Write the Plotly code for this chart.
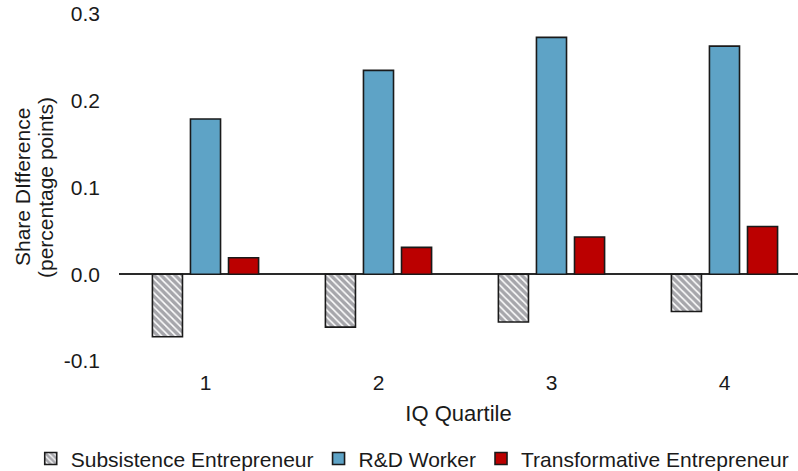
import plotly.graph_objects as go

quartiles = ["1", "2", "3", "4"]
subsistence = [-0.072, -0.061, -0.055, -0.043]
rd_worker = [0.179, 0.235, 0.273, 0.263]
transformative = [0.019, 0.031, 0.043, 0.055]

y_ticks = [-0.1, 0.0, 0.1, 0.2, 0.3]
y_labels = ["-0.1", "0.0", "0.1", "0.2", "0.3"]
y_title_lines = ["Share DIfference", "(percentage points)"]

font = "Liberation Sans, Arial, sans-serif"
outline = dict(color="#1a1a1a", width=1.6)

fig = go.Figure()
fig.add_trace(go.Bar(
    x=quartiles, y=subsistence, name="Subsistence Entrepreneur",
    marker=dict(color="white", line=outline,
                pattern=dict(shape="\\", fgcolor="#4e4e57", bgcolor="white",
                             size=5, solidity=0.7)),
))
fig.add_trace(go.Bar(
    x=quartiles, y=rd_worker, name="R&D Worker",
    marker=dict(color="#5ea3c6", line=outline),
))
fig.add_trace(go.Bar(
    x=quartiles, y=transformative, name="Transformative Entrepreneur",
    marker=dict(color="#bb0000", line=outline),
))

# y title drawn as two rotated lines, tighter line spacing than plotly's
for xpos, line in zip([-0.1421, -0.1082], y_title_lines):
    fig.add_annotation(text=line, xref="paper", yref="paper", x=xpos, y=0.5,
                       xanchor="center", yanchor="middle", textangle=-90,
                       showarrow=False,
                       font=dict(family=font, size=21, color="#1a1a1a"))

fig.update_layout(
    width=798, height=471,
    plot_bgcolor="white", paper_bgcolor="white",
    font=dict(family=font, size=21, color="#1a1a1a"),
    margin=dict(l=119, r=0, t=14, b=110, autoexpand=False),
    barmode="group", bargap=0.34, bargroupgap=0.21,
    showlegend=True,
    # x < 0 lets the horizontal legend use the full figure width (one row)
    legend=dict(orientation="h", x=-0.13, xanchor="left",
                y=-0.282, yanchor="middle",
                font=dict(size=21), itemwidth=30, tracegroupgap=0),
    xaxis=dict(range=[-0.5, 3.425], showline=False, ticks="",
               automargin=False, ticklabelstandoff=7,
               title=dict(text="IQ Quartile", standoff=12,
                          font=dict(size=22))),
    yaxis=dict(range=[-0.1, 0.3], tickvals=y_ticks, ticktext=y_labels,
               showgrid=False, showline=False, ticks="", automargin=False,
               ticklabelstandoff=18,
               zeroline=True, zerolinecolor="#2a2a2a", zerolinewidth=1.6),
)

# drop the default 8px body margin so the figure fills the window
fig.write_html("out.html", config={"displayModeBar": False},
               post_script="document.body.style.margin='0';")
